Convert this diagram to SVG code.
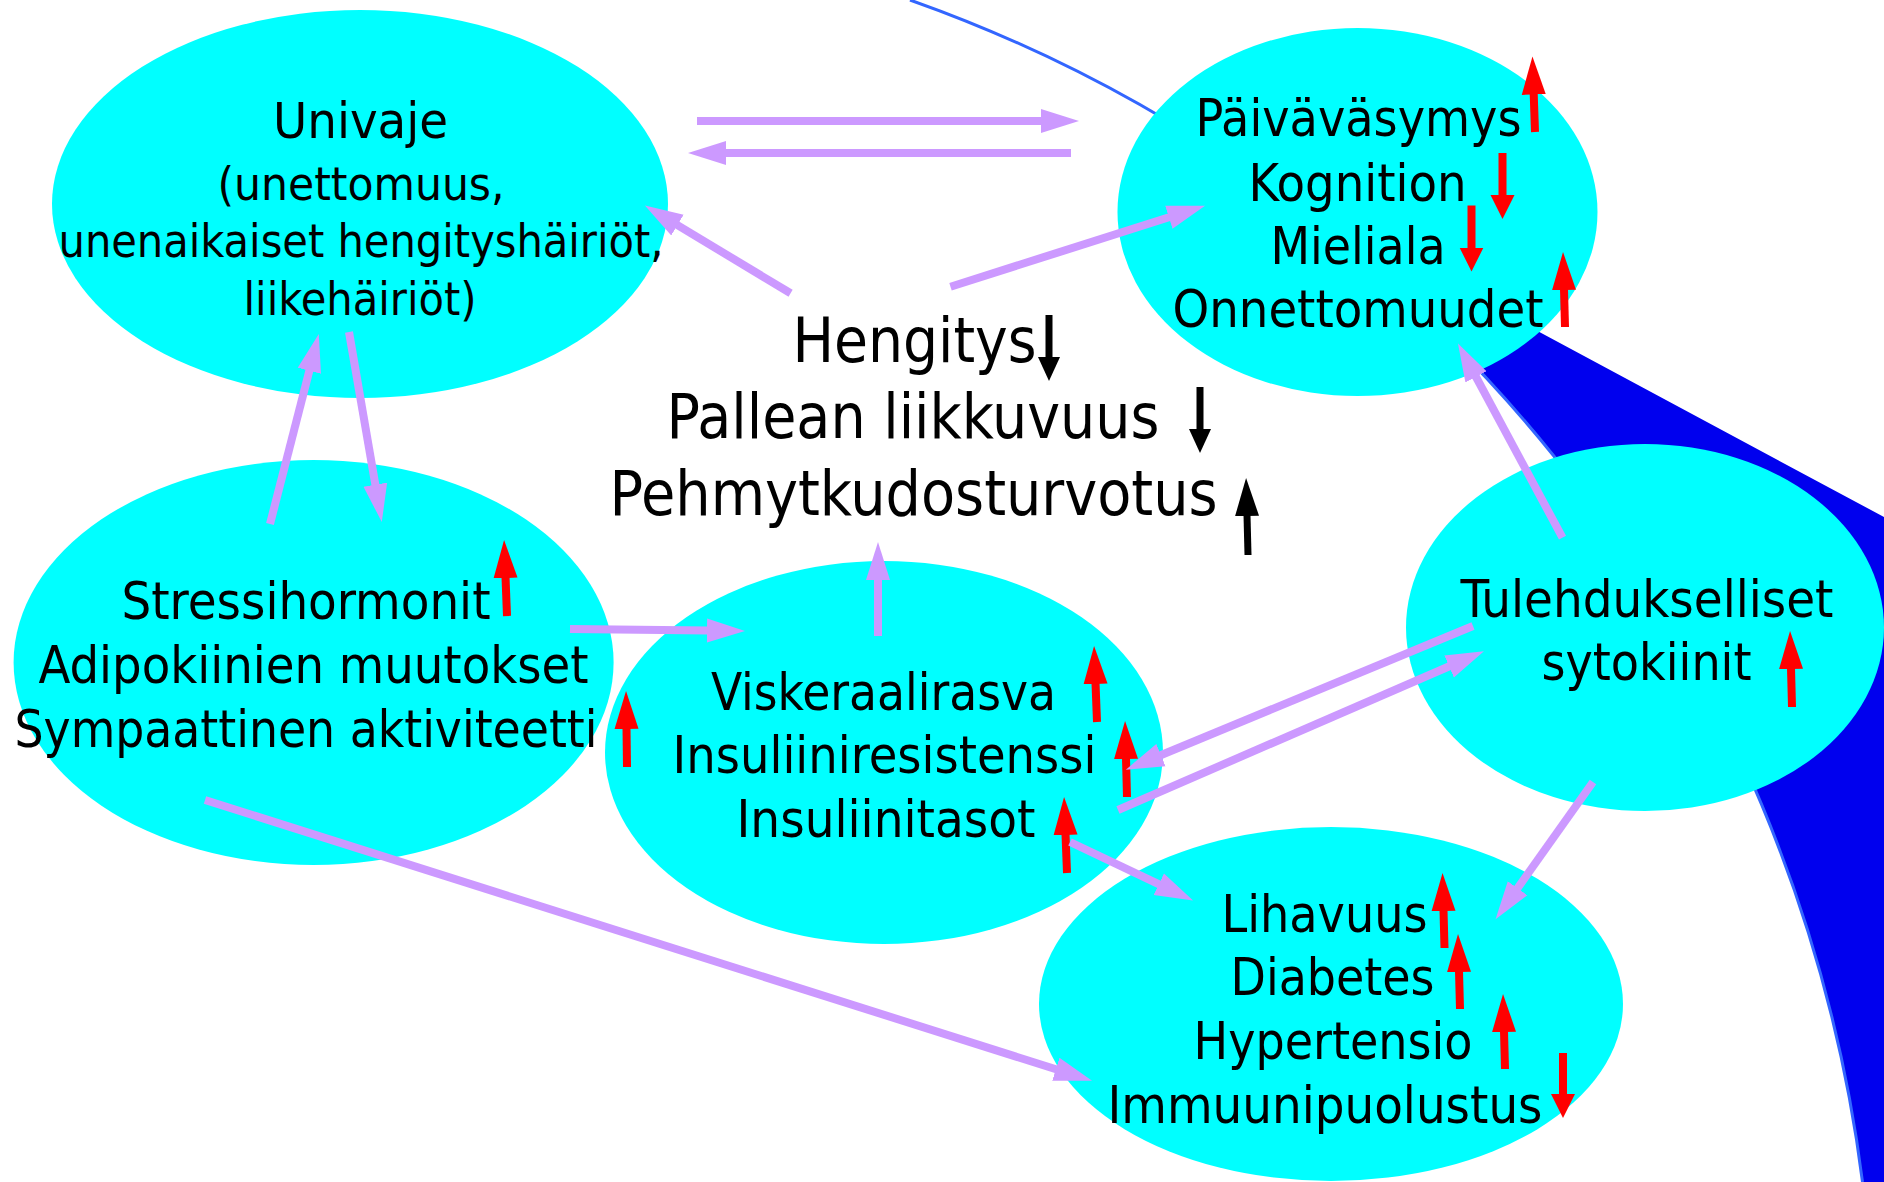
<svg xmlns="http://www.w3.org/2000/svg" width="1884" height="1182" viewBox="0 0 1884 1182">
<style>
.node{fill:#00ffff}
text{font-family:"DejaVu Sans Condensed","DejaVu Sans",sans-serif;fill:#000;text-anchor:middle}
.f46{font-size:46px}.f50{font-size:50px}.f51{font-size:51px}.f52{font-size:52px}.f62{font-size:62px}
.pu{stroke:#cc99ff;stroke-width:8;fill:none;marker-end:url(#hp)}
.rd{stroke:#ff0000;stroke-width:8;fill:none;marker-end:url(#hr)}
.rs{stroke:#ff0000;stroke-width:8;fill:none;marker-end:url(#hrs)}
.bk{stroke:#000;stroke-width:7;fill:none;marker-end:url(#hk)}
.bs{stroke:#000;stroke-width:7;fill:none;marker-end:url(#hks)}
</style>
<defs>
<marker id="hp" markerUnits="userSpaceOnUse" viewBox="0 0 40 26" markerWidth="40" markerHeight="26" refX="1" refY="13" orient="auto"><path d="M0,1 L38,13 L0,25 z" fill="#cc99ff"/></marker>
<marker id="hr" markerUnits="userSpaceOnUse" viewBox="0 0 40 26" markerWidth="40" markerHeight="26" refX="1" refY="13" orient="auto"><path d="M0,1 L38,13 L0,25 z" fill="#ff0000"/></marker>
<marker id="hrs" markerUnits="userSpaceOnUse" viewBox="0 0 26 26" markerWidth="26" markerHeight="26" refX="1" refY="13" orient="auto"><path d="M0,1 L24,13 L0,25 z" fill="#ff0000"/></marker>
<marker id="hk" markerUnits="userSpaceOnUse" viewBox="0 0 40 26" markerWidth="40" markerHeight="26" refX="1" refY="13" orient="auto"><path d="M0,1 L38,13 L0,25 z" fill="#000"/></marker>
<marker id="hks" markerUnits="userSpaceOnUse" viewBox="0 0 26 24" markerWidth="26" markerHeight="24" refX="1" refY="12" orient="auto"><path d="M0,1 L24,12 L0,23 z" fill="#000"/></marker>
</defs>
<rect width="1884" height="1182" fill="#fff"/>
<g id="band">
<path d="M1270,187.6 A1446,1446 0 0 1 1862.5,1182 L1884,1182 L1884,517 Z" fill="#0000ee"/>
<path d="M910,0 A1446,1446 0 0 1 1862.5,1182" fill="none" stroke="#3366ff" stroke-width="3"/>
</g>
<g id="univaje">
<ellipse class="node" cx="360" cy="204" rx="308" ry="194"/>
<text class="f50" x="360.5" y="138" textLength="175" lengthAdjust="spacingAndGlyphs">Univaje</text>
<text class="f46" x="361" y="200" textLength="287" lengthAdjust="spacingAndGlyphs">(unettomuus,</text>
<text class="f46" x="361" y="257" textLength="605" lengthAdjust="spacingAndGlyphs">unenaikaiset hengityshäiriöt,</text>
<text class="f46" x="360" y="315" textLength="233" lengthAdjust="spacingAndGlyphs">liikehäiriöt)</text>
</g>
<g id="paivavasymys">
<ellipse class="node" cx="1357.5" cy="212" rx="240" ry="184"/>
<text class="f51" x="1358.5" y="136" textLength="326" lengthAdjust="spacingAndGlyphs">Päiväväsymys</text>
<text class="f51" x="1357.5" y="201" textLength="218" lengthAdjust="spacingAndGlyphs">Kognition</text>
<text class="f51" x="1358" y="264" textLength="175" lengthAdjust="spacingAndGlyphs">Mieliala</text>
<text class="f51" x="1358" y="327" textLength="371" lengthAdjust="spacingAndGlyphs">Onnettomuudet</text>
<path class="rd" d="M1535,132 L1533.7,93.5"/>
<path class="rs" d="M1502.5,153 L1502.5,196"/>
<path class="rs" d="M1471.5,205.5 L1471.5,248.5"/>
<path class="rd" d="M1565,327 L1564,289"/>
</g>
<g id="hengitys">
<text class="f62" x="914.5" y="362" textLength="244" lengthAdjust="spacingAndGlyphs">Hengitys</text>
<text class="f62" x="913" y="438" textLength="493" lengthAdjust="spacingAndGlyphs">Pallean liikkuvuus</text>
<text class="f62" x="913.6" y="515" textLength="608" lengthAdjust="spacingAndGlyphs">Pehmytkudosturvotus</text>
<path class="bs" d="M1049,315 L1049,358"/>
<path class="bs" d="M1200,387 L1200,430"/>
<path class="bk" d="M1248,555 L1247,515"/>
</g>
<g id="stressihormonit">
<ellipse class="node" cx="313.6" cy="662.5" rx="300" ry="202.5"/>
<text class="f52" x="306" y="619" textLength="369" lengthAdjust="spacingAndGlyphs">Stressihormonit</text>
<text class="f52" x="313.5" y="683" textLength="550" lengthAdjust="spacingAndGlyphs">Adipokiinien muutokset</text>
<text class="f52" x="306" y="747" textLength="583" lengthAdjust="spacingAndGlyphs">Sympaattinen aktiviteetti</text>
<path class="rd" d="M507,616 L505.5,577"/>
</g>
<g id="viskeraalirasva">
<ellipse class="node" cx="884" cy="752.5" rx="279" ry="191.5"/>
<text class="f52" x="883.5" y="710" textLength="345" lengthAdjust="spacingAndGlyphs">Viskeraalirasva</text>
<text class="f52" x="884.5" y="773" textLength="424" lengthAdjust="spacingAndGlyphs">Insuliiniresistenssi</text>
<text class="f52" x="886" y="837" textLength="299" lengthAdjust="spacingAndGlyphs">Insuliinitasot</text>
<path class="rd" d="M627,767 L626.5,728"/>
<path class="rd" d="M1097,722 L1095.5,683"/>
<path class="rd" d="M1127,797 L1126,758"/>
<path class="rd" d="M1067,873 L1065.5,834"/>
</g>
<g id="tulehdukselliset">
<ellipse class="node" cx="1645" cy="627.5" rx="239" ry="183.5"/>
<text class="f52" x="1647" y="617" textLength="373" lengthAdjust="spacingAndGlyphs">Tulehdukselliset</text>
<text class="f52" x="1646.5" y="680" textLength="210" lengthAdjust="spacingAndGlyphs">sytokiinit</text>
<path class="rd" d="M1792,707 L1791,668"/>
</g>
<g id="lihavuus">
<ellipse class="node" cx="1331" cy="1004" rx="292" ry="177"/>
<text class="f52" x="1324.5" y="932" textLength="206" lengthAdjust="spacingAndGlyphs">Lihavuus</text>
<text class="f52" x="1332.5" y="995" textLength="204" lengthAdjust="spacingAndGlyphs">Diabetes</text>
<text class="f52" x="1333" y="1059" textLength="279" lengthAdjust="spacingAndGlyphs">Hypertensio</text>
<text class="f52" x="1325" y="1123" textLength="435" lengthAdjust="spacingAndGlyphs">Immuunipuolustus</text>
<path class="rd" d="M1444.5,948 L1443.5,910"/>
<path class="rd" d="M1460,1009 L1459,971"/>
<path class="rd" d="M1505,1069 L1504,1031"/>
<path class="rs" d="M1563,1053 L1563,1095"/>
</g>
<g id="connectors">
<path class="pu" d="M697,121 L1042,121"/>
<path class="pu" d="M1071,153 L725,153"/>
<path class="pu" d="M790.6,293.3 L676.6,224.6"/>
<path class="pu" d="M950.5,286.7 L1169.8,217"/>
<path class="pu" d="M270,524 L309.6,369.8"/>
<path class="pu" d="M349,332 L375.5,485.6"/>
<path class="pu" d="M570,629 L708,630.6"/>
<path class="pu" d="M878,636 L878,579"/>
<path class="pu" d="M1562.5,537.7 L1475.5,376"/>
<path class="pu" d="M1473,626 L1160,755.5"/>
<path class="pu" d="M1118,810 L1450,666"/>
<path class="pu" d="M1070,842 L1159.7,884.7"/>
<path class="pu" d="M1593,782 L1517,889"/>
<path class="pu" d="M205,800 L1056.8,1069.5"/>
</g>
</svg>
